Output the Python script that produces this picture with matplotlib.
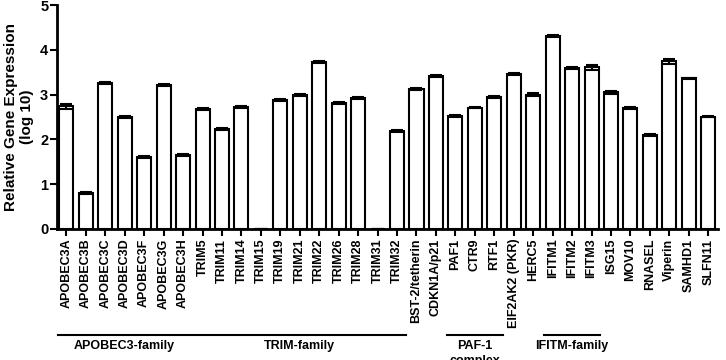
import matplotlib
matplotlib.use("Agg")
import matplotlib.pyplot as plt
import matplotlib.transforms as mtransforms

plt.rcParams['font.family'] = ['Liberation Sans', 'DejaVu Sans']
plt.rcParams['font.weight'] = 'bold'

genes = ["APOBEC3A", "APOBEC3B", "APOBEC3C", "APOBEC3D", "APOBEC3F", "APOBEC3G", "APOBEC3H",
         "TRIM5", "TRIM11", "TRIM14", "TRIM15", "TRIM19", "TRIM21", "TRIM22", "TRIM26",
         "TRIM28", "TRIM31", "TRIM32", "BST-2/tetherin", "CDKN1A/p21", "PAF1", "CTR9",
         "RTF1", "EIF2AK2 (PKR)", "HERC5", "IFITM1", "IFITM2", "IFITM3", "ISG15", "MOV10",
         "RNASEL", "Viperin", "SAMHD1", "SLFN11"]
expression = [2.74, 0.80, 3.26, 2.50, 1.61, 3.21, 1.65,
              2.67, 2.24, 2.73, 0.0, 2.88, 3.00, 3.73, 2.82,
              2.92, 0.0, 2.19, 3.13, 3.41, 2.52, 2.71,
              2.94, 3.46, 3.00, 4.31, 3.59, 3.61, 3.05, 2.70,
              2.10, 3.74, 3.36, 2.51]
errors = [0.06, 0.02, 0.02, 0.02, 0.02, 0.02, 0.03,
          0.02, 0.02, 0.02, 0.0, 0.02, 0.02, 0.02, 0.02,
          0.02, 0.0, 0.02, 0.02, 0.02, 0.02, 0.02,
          0.02, 0.02, 0.03, 0.03, 0.02, 0.05, 0.04, 0.02,
          0.02, 0.05, 0.02, 0.02]

# family name, first bar, last bar
groups = [("APOBEC3-family", 0, 6), ("TRIM-family", 7, 17),
          ("PAF-1\ncomplex", 20, 22), ("IFITM-family", 25, 27)]

fig = plt.figure(figsize=(7.26, 3.6), dpi=100)
ax = fig.add_axes([0.078, 0.364, 0.911, 0.622])

x = list(range(len(genes)))
ax.bar(x, expression, width=0.72, color='white', edgecolor='black', linewidth=1.5,
       yerr=errors, error_kw=dict(ecolor='black', elinewidth=1.5, capsize=4, capthick=1.5))

ax.set_xlim(-0.5, len(genes) - 0.5)
ax.set_ylim(0, 5)
ax.set_yticks([0, 1, 2, 3, 4, 5])
ax.set_xticks(x)
ax.set_xticklabels(genes, rotation=90, fontsize=9, fontweight='bold')
ax.tick_params(axis='y', labelsize=10.5, width=1.5, length=5, pad=1)
ax.tick_params(axis='x', width=1.5, length=5, pad=2)
for lab in ax.get_yticklabels():
    lab.set_fontweight('bold')

ax.spines['top'].set_visible(False)
ax.spines['right'].set_visible(False)
ax.spines['left'].set_linewidth(2)
ax.spines['bottom'].set_linewidth(2)

ax.set_ylabel("Relative Gene Expression\n(log 10)", fontsize=11, fontweight='bold', labelpad=4)

trans = mtransforms.blended_transform_factory(ax.transData, fig.transFigure)
for name, start, end in groups:
    ax.plot([start - 0.45, end + 0.45], [0.069, 0.069], color='black', linewidth=1.5,
            transform=trans, clip_on=False)
    ax.text((start + end) / 2, 0.055, name, transform=trans, ha='center', va='top',
            fontsize=9, fontweight='bold', linespacing=1.3)

plt.savefig("out.png", dpi=100)
